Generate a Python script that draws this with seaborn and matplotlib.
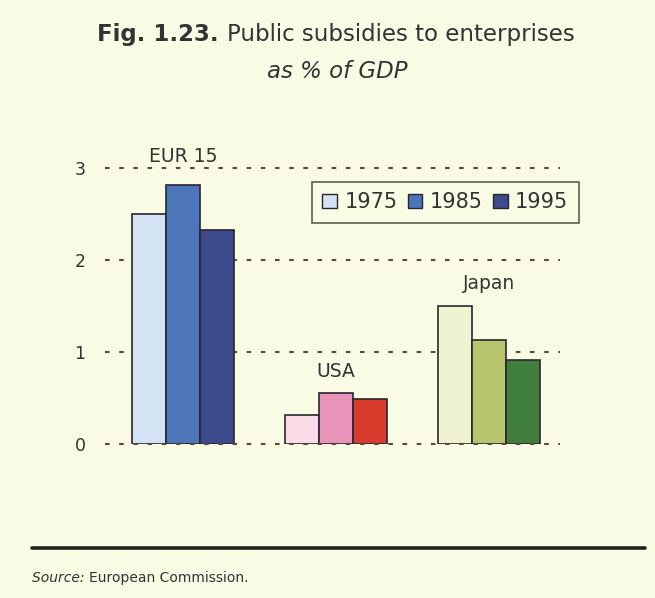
import matplotlib
matplotlib.use("Agg")
import matplotlib.pyplot as plt
import seaborn as sns
import pandas as pd
from matplotlib.patches import Patch

regions = ["EUR 15", "USA", "Japan"]
years = ["1975", "1985", "1995"]
eur15 = [2.50, 2.82, 2.33]
usa = [0.32, 0.55, 0.49]
japan = [1.50, 1.13, 0.91]

region_colors = {
    "EUR 15": ["#d3e3f3", "#4d75ba", "#3d4b8c"],
    "USA": ["#fadbe8", "#e894b8", "#d83b2b"],
    "Japan": ["#eff3d2", "#b8c56c", "#3f7e3b"],
}
label_gap = [0.20, 0.14, 0.14]

rows = []
for reg, vals in zip(regions, [eur15, usa, japan]):
    for yr, v in zip(years, vals):
        rows.append({"region": reg, "year": yr, "value": v})
df = pd.DataFrame(rows)

bg = "#fafbe4"
txtc = "#333333"
sns.set_theme(style="white")
plt.rcParams["font.family"] = ["DejaVu Sans"]

fig = plt.figure(figsize=(6.55, 5.98), dpi=100, facecolor=bg)
ax = fig.add_axes([105 / 655, (598 - 444) / 598, 455 / 655, 276 / 598])
ax.set_facecolor(bg)

sns.barplot(data=df, x="region", y="value", hue="year", order=regions,
            hue_order=years, width=0.667, ax=ax, legend=False,
            edgecolor="#2a2630", linewidth=1.2, zorder=3)

# recolour each bar by its region and year
for hi, cont in enumerate(ax.containers):
    for ri, bar in enumerate(cont):
        bar.set_facecolor(region_colors[regions[ri]][hi])

ax.set_ylim(0, 3)
ax.set_xlim(-0.51, 2.464)
ax.set_yticks([0, 1, 2, 3])
ax.set_yticklabels(["0", "1", "2", "3"], fontsize=12.5, color=txtc)
ax.set_xticks([])
ax.set_xlabel("")
ax.set_ylabel("")
ax.tick_params(axis="y", length=0, pad=14)
for s in ax.spines.values():
    s.set_visible(False)
for yv in [0, 1, 2, 3]:
    ax.axhline(yv, color="#5a4842", linestyle=(0, (2.2, 4.6)), linewidth=1.5,
               zorder=1 if yv else 4, clip_on=False)

for i, (reg, vals) in enumerate(zip(regions, [eur15, usa, japan])):
    ax.text(i, max(vals) + label_gap[i], reg, ha="center", va="bottom", fontsize=13.5,
            color=txtc, clip_on=False)

handles = [Patch(facecolor=c, edgecolor="#2a2630", linewidth=1) for c in region_colors["EUR 15"]]
leg = ax.legend(handles, years, loc="upper left", bbox_to_anchor=(207 / 455, 1 - 14 / 276),
                ncol=3, frameon=True, fontsize=15, handlelength=0.7, handleheight=0.7,
                handletextpad=0.35, columnspacing=0.5, borderpad=0.5, fancybox=False,
                borderaxespad=0)
leg.get_frame().set_edgecolor("#3a3530")
leg.get_frame().set_facecolor(bg)
leg.get_frame().set_linewidth(1.2)
for t in leg.get_texts():
    t.set_color(txtc)

fig.text(337 / 655, 1 - 72 / 598, "as % of GDP", ha="center", va="center",
         fontsize=16.5, style="italic", color=txtc)

fig.add_artist(plt.Line2D([32 / 655, 645 / 655], [1 - 548 / 598, 1 - 548 / 598],
                          color="#222222", linewidth=2.6))

# title and source composed of styled parts
fig.canvas.draw()
tb = fig.text(97 / 655, 1 - 35 / 598, "Fig. 1.23. ", ha="left", va="center",
              fontsize=16.5, fontweight="bold", color=txtc)
src = fig.text(32 / 655, 1 - 578 / 598, "Source: ", ha="left", va="center",
               fontsize=10, style="italic", color=txtc)
fig.canvas.draw()
x1 = tb.get_window_extent().x1 / fig.bbox.width
fig.text(x1, 1 - 35 / 598, "Public subsidies to enterprises", ha="left", va="center",
         fontsize=16.5, color=txtc)
x2 = src.get_window_extent().x1 / fig.bbox.width
fig.text(x2, 1 - 578 / 598, "European Commission.", ha="left", va="center",
         fontsize=10, color=txtc)

fig.savefig("out.png", dpi=100, facecolor=bg)
